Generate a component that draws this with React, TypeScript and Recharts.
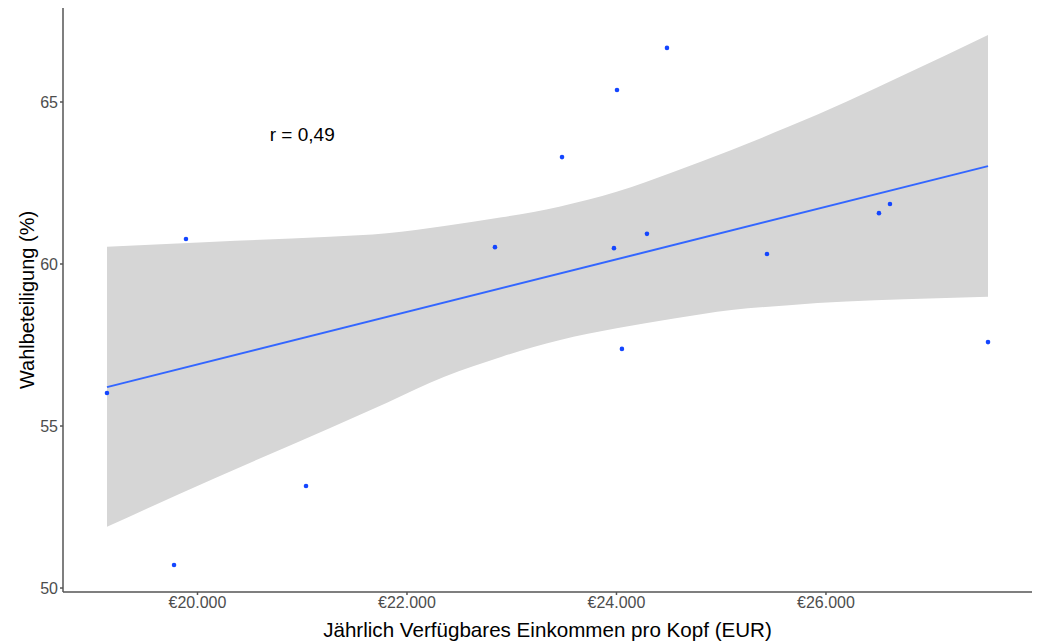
import React from 'react';
import { ComposedChart, XAxis, YAxis, Area, Line, Scatter, ReferenceDot } from 'recharts';

// Scatter points: disposable income per capita (EUR) vs. turnout (%)
const incomeX = [19136, 19890, 19776, 21036, 22840, 23480, 23976, 24005, 24052, 24291, 24482, 25437, 26506, 26611, 27547];
const turnoutY = [56.02, 60.77, 50.71, 53.15, 60.52, 63.3, 60.49, 65.37, 57.38, 60.93, 66.67, 60.31, 61.57, 61.85, 57.59];

// Confidence band
const bandX = [19136, 20165, 21261, 21809, 22357, 22905, 23453, 24001, 24549, 25098, 25646, 26194, 26742, 27547];
const bandLo = [51.89, 53.39, 54.93, 55.72, 56.52, 57.14, 57.65, 58.02, 58.32, 58.58, 58.73, 58.84, 58.91, 58.99];
const bandHi = [60.53, 60.69, 60.84, 60.95, 61.17, 61.44, 61.77, 62.23, 62.85, 63.52, 64.24, 65.01, 65.83, 67.07];

// Regression line endpoints
const fitX = [19136, 27547];
const fitY = [56.2, 63.02];

const xTicks = [20000, 22000, 24000, 26000];
const yTicks = [50, 55, 60, 65];

const points = incomeX.map((x, i) => ({ x, y: turnoutY[i] }));
const band = bandX.map((x, i) => ({ x, lo: bandLo[i], hi: bandHi[i] }));
const fit = fitX.map((x, i) => ({ x, fy: fitY[i] }));

const FONT = '"Liberation Sans", Arial, sans-serif';

const fmtEuro = (v: number) => '€' + String(v).replace(/\B(?=(\d{3})+(?!\d))/g, '.');

const Dot = (props: any) => {
  const { cx, cy } = props;
  if (cx == null || cy == null) return null;
  return <circle cx={cx} cy={cy} r={2.3} fill="#1446FF" />;
};

export default function App() {
  return (
    <div style={{ position: 'absolute', left: 0, top: 0, background: '#fff' }}>
      <ComposedChart
        width={1037}
        height={642}
        margin={{ top: 8, right: 5, bottom: 0, left: 0 }}
        style={{ fontFamily: FONT }}
      >
        <XAxis
          type="number"
          dataKey="x"
          domain={[18716, 27967]}
          allowDataOverflow
          ticks={xTicks}
          tickFormatter={fmtEuro}
          height={50}
          stroke="#555"
          strokeWidth={1.5}
          tickSize={3}
          tickMargin={2}
          tick={{ fill: '#4D4D4D', fontSize: 16, fontFamily: FONT }}
          label={{ value: 'Jährlich Verfügbares Einkommen pro Kopf (EUR)', position: 'center', dy: 13, fill: '#000', fontSize: 20.6, fontFamily: FONT }}
        />
        <YAxis
          type="number"
          domain={[49.877, 67.901]}
          allowDataOverflow
          ticks={yTicks}
          width={63}
          stroke="#555"
          strokeWidth={1.5}
          tickSize={3}
          tickMargin={2}
          tick={{ fill: '#4D4D4D', fontSize: 16, fontFamily: FONT }}
          label={{ value: 'Wahlbeteiligung (%)', angle: -90, position: 'center', dx: -5, fill: '#000', fontSize: 20, fontFamily: FONT }}
        />
        <Area
          data={band}
          dataKey={(d: any) => [d.lo, d.hi]}
          type="monotone"
          fill="#D6D6D6"
          fillOpacity={1}
          stroke="none"
          isAnimationActive={false}
        />
        <Line
          data={fit}
          dataKey="fy"
          type="linear"
          stroke="#3366FF"
          strokeWidth={2}
          dot={false}
          activeDot={false}
          isAnimationActive={false}
        />
        <Scatter data={points} dataKey="y" shape={<Dot />} isAnimationActive={false} />
        <ReferenceDot
          x={21000}
          y={64}
          r={0}
          fill="none"
          stroke="none"
          label={{ value: 'r = 0,49', position: 'center', fill: '#000', fontSize: 19, fontFamily: FONT }}
        />
      </ComposedChart>
    </div>
  );
}
